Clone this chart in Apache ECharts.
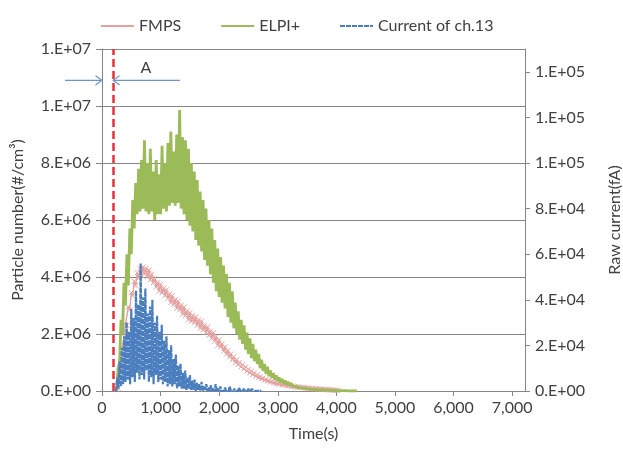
<!DOCTYPE html>
<html>
<head>
<meta charset="utf-8">
<title>Particle number and raw current</title>
<script src="https://cdn.jsdelivr.net/npm/echarts@6/dist/echarts.min.js"></script>
<style>
  html, body { margin: 0; padding: 0; background: #ffffff; }
  #chart { width: 623px; height: 450px; }
</style>
</head>
<body>
<div id="chart"></div>
<script>
// Tick positions
const timeTicks = [0, 1000, 2000, 3000, 4000, 5000, 6000, 7000];
const currentTicks = [0, 20000, 40000, 60000, 80000, 100000, 120000, 140000];

// Time (s) at which sampling starts (red dashed marker)
const startMarkTime = 190;

// ELPI+ particle number, in units of 1e6 #/cm3, sampled from 250 s every 25 s
const elpiStart = 250, elpiStep = 25;
const elpiMillions = [
  0.0, 0.8, 1.0, 2.5, 2.0, 3.8, 3.0, 4.8, 3.7, 5.7, 4.8, 6.7, 5.7, 7.3, 6.2, 7.8,
  6.3, 8.1, 6.4, 8.8, 6.3, 8.0, 6.2, 8.5, 6.3, 7.7, 6.0, 8.1, 6.2, 7.6, 6.2, 8.6,
  6.4, 8.0, 6.3, 8.7, 6.5, 9.1, 6.6, 8.4, 6.5, 9.0, 6.6, 9.86, 6.4, 8.9, 6.2, 8.8,
  6.0, 8.5, 5.8, 8.0, 5.6, 7.7, 5.3, 7.4, 5.1, 7.0, 4.9, 6.7, 4.6, 6.4, 4.4, 6.0,
  4.1, 5.7, 3.8, 5.3, 3.5, 5.0, 3.3, 4.7, 3.1, 4.4, 2.9, 4.1, 2.6, 3.8, 2.4, 3.5,
  2.2, 3.1, 2.0, 2.8, 1.8, 2.5, 1.65, 2.3, 1.45, 2.05, 1.3, 1.85, 1.15, 1.65, 1.05, 1.45,
  0.95, 1.3, 0.8, 1.1, 0.7, 0.95, 0.6, 0.85, 0.52, 0.72, 0.46, 0.63, 0.4, 0.55, 0.35, 0.48,
  0.3, 0.42, 0.27, 0.37, 0.23, 0.32, 0.2, 0.28, 0.18, 0.24, 0.15, 0.21, 0.13, 0.18, 0.11, 0.16,
  0.1, 0.14, 0.08, 0.12, 0.07, 0.1, 0.06, 0.09, 0.05, 0.08, 0.04, 0.07, 0.04, 0.06, 0.03, 0.05,
  0.03, 0.04, 0.02, 0.04, 0.02, 0.03, 0.01, 0.02, 0.01, 0.02, 0.01, 0.02, 0.01, 0.01, 0.0, 0.01,
  0.0, 0.01, 0.0, 0.0, 0.0
];

// FMPS particle number, in units of 1e6 #/cm3, sampled from 275 s every 25 s
const fmpsStart = 275, fmpsStep = 25;
const fmpsMillions = [
  0.1, 0.7, 0.8, 1.55, 1.6, 2.35, 2.3, 2.95, 2.85, 3.45, 3.35, 3.85, 3.7, 4.15, 3.95, 4.3,
  4.05, 4.35, 4.1, 4.3, 4.0, 4.25, 3.9, 4.1, 3.8, 3.95, 3.65, 3.8, 3.5, 3.75, 3.45, 3.6,
  3.35, 3.55, 3.25, 3.4, 3.1, 3.35, 3.05, 3.2, 2.9, 3.15, 2.85, 3.0, 2.7, 2.95, 2.65, 2.8,
  2.5, 2.75, 2.45, 2.65, 2.4, 2.6, 2.3, 2.5, 2.2, 2.45, 2.15, 2.3, 2.05, 2.25, 1.95, 2.1,
  1.85, 2.05, 1.75, 1.9, 1.6, 1.8, 1.55, 1.65, 1.4, 1.55, 1.3, 1.42, 1.2, 1.3, 1.1, 1.2,
  1.0, 1.1, 0.93, 1.0, 0.85, 0.92, 0.78, 0.84, 0.7, 0.76, 0.64, 0.7, 0.58, 0.63, 0.52, 0.57,
  0.47, 0.51, 0.42, 0.46, 0.38, 0.41, 0.34, 0.37, 0.31, 0.34, 0.28, 0.31, 0.26, 0.28, 0.24, 0.26,
  0.22, 0.24, 0.2, 0.22, 0.18, 0.2, 0.16, 0.18, 0.15, 0.16, 0.13, 0.15, 0.12, 0.13, 0.11, 0.12,
  0.1, 0.11, 0.09, 0.1, 0.08, 0.09, 0.07, 0.08, 0.06, 0.07, 0.06, 0.06, 0.05, 0.05, 0.05, 0.04,
  0.04, 0.04, 0.03, 0.03, 0.03, 0.03, 0.02
];

// Raw current of ELPI+ channel 13, in units of 1e4 fA, sampled from 240 s every 20 s
const currentStart = 240, currentStep = 20;
const currentE4 = [
  0.0, 0.6, 0.1, 1.3, 0.2, 1.9, 0.3, 2.4, 0.4, 3.0, 0.5, 2.6, 0.3, 3.6, 0.6, 3.2,
  0.4, 4.4, 0.8, 3.8, 0.5, 5.6, 0.7, 4.1, 0.5, 4.5, 0.9, 3.4, 0.4, 3.7, 0.6, 4.0,
  0.3, 3.0, 0.7, 3.3, 0.4, 2.6, 0.5, 2.9, 0.3, 2.2, 0.4, 2.4, 0.2, 1.8, 0.3, 2.0,
  0.2, 1.4, 0.3, 1.6, 0.1, 1.1, 0.2, 1.2, 0.1, 0.8, 0.1, 0.9, 0.05, 0.6, 0.1, 0.7,
  0.05, 0.45, 0.05, 0.5, 0.0, 0.35, 0.05, 0.3, 0.0, 0.4, 0.0, 0.2, 0.05, 0.3, 0.0, 0.15,
  0.0, 0.25, 0.0, 0.1, 0.0, 0.3, 0.0, 0.1, 0.0, 0.2, 0.0, 0.05, 0.0, 0.15, 0.0, 0.05,
  0.0, 0.2, 0.0, 0.05, 0.0, 0.1, 0.0, 0.05, 0.0, 0.15, 0.0, 0.05, 0.0, 0.1, 0.0, 0.05,
  0.0, 0.1, 0.0, 0.0, 0.08, 0.0, 0.0, 0.05, 0.0, 0.0, 0.03, 0.0, 0.0
];

const TEXT = '#404040';
const AXIS = '#868686';
const FONT = 'Lato';
const PINK = '#e3a19f';
const GREEN = '#9bbb59';
const BLUE = '#4a7ebf';

// Excel-style "0.E+00" number format
function sci(v) {
  if (v === 0) return '0.E+00';
  let e = Math.floor(Math.log10(v));
  let m = Math.round(v / Math.pow(10, e));
  if (m >= 10) { m = 1; e += 1; }
  return m + '.E+' + String(e).padStart(2, '0');
}

function toPairs(values, start, step, scale) {
  return values.map((v, i) => [start + i * step, v * scale]);
}

const chart = echarts.init(document.getElementById('chart'), null, { renderer: 'canvas' });

const option = {
  animation: false,
  textStyle: { fontFamily: FONT },
  legend: {
    top: 13,
    left: 95,
    itemWidth: 33,
    itemHeight: 12,
    itemGap: 39,
    itemStyle: { opacity: 0 },
    textStyle: { fontSize: 16, color: TEXT, fontFamily: FONT },
    data: ['FMPS', 'ELPI+', 'Current of ch.13']
  },
  grid: { left: 102, right: 98, top: 49, bottom: 59, outerBoundsMode: 'none', containLabel: false },
  xAxis: {
    type: 'value',
    min: 0,
    max: 7220,
    name: 'Time(s)',
    nameLocation: 'middle',
    nameGap: 35,
    nameTextStyle: { fontSize: 16, color: TEXT, fontFamily: FONT },
    axisLine: { show: true, onZero: false, lineStyle: { color: AXIS, width: 1 } },
    axisTick: { show: true, customValues: timeTicks, length: 5, lineStyle: { color: AXIS } },
    axisLabel: {
      customValues: timeTicks,
      formatter: v => v.toLocaleString('en-US'),
      fontSize: 16, color: TEXT, fontFamily: FONT, margin: 9
    },
    splitLine: { show: false }
  },
  yAxis: [
    {
      type: 'value',
      position: 'left',
      min: 0,
      max: 1.2e7,
      interval: 2e6,
      name: 'Particle number(#/cm³)',
      nameLocation: 'middle',
      nameRotate: 90,
      nameGap: 76,
      nameTextStyle: { fontSize: 16, color: TEXT, fontFamily: FONT },
      axisLine: { show: true, lineStyle: { color: AXIS, width: 1 } },
      axisTick: { show: true, length: 6, lineStyle: { color: AXIS } },
      axisLabel: { formatter: sci, fontSize: 16, color: TEXT, fontFamily: FONT, margin: 11 },
      splitLine: { show: true, lineStyle: { color: AXIS, width: 1 } }
    },
    {
      type: 'value',
      position: 'right',
      min: 0,
      max: 150000,
      name: 'Raw current(fA)',
      nameLocation: 'middle',
      nameRotate: 90,
      nameGap: 82,
      nameTextStyle: { fontSize: 16, color: TEXT, fontFamily: FONT },
      axisLine: { show: true, lineStyle: { color: AXIS, width: 1 } },
      axisTick: { show: true, customValues: currentTicks, length: 5, lineStyle: { color: AXIS } },
      axisLabel: { customValues: currentTicks, formatter: sci, fontSize: 16, color: TEXT, fontFamily: FONT, margin: 10 },
      splitLine: { show: false }
    }
  ],
  series: [
    {
      name: 'FMPS',
      type: 'line',
      yAxisIndex: 0,
      showSymbol: true,
      symbol: 'path://M0,0L10,10M10,0L0,10',
      symbolSize: 5,
      sampling: null,
      lineStyle: { color: PINK, width: 1.4 },
      itemStyle: { color: 'rgba(0,0,0,0)', borderColor: PINK, borderWidth: 1 },
      data: toPairs(fmpsMillions, fmpsStart, fmpsStep, 1e6),
      z: 2
    },
    {
      name: 'ELPI+',
      type: 'line',
      yAxisIndex: 0,
      showSymbol: false,
      symbol: 'none',
      lineStyle: { color: GREEN, width: 2.8 },
      itemStyle: { color: GREEN },
      data: toPairs(elpiMillions, elpiStart, elpiStep, 1e6),
      markLine: {
        silent: true,
        symbol: ['none', 'none'],
        label: { show: false },
        lineStyle: { color: '#e8303a', type: [8, 4], width: 2.5 },
        data: [{ xAxis: startMarkTime }]
      },
      z: 3
    },
    {
      name: 'Current of ch.13',
      type: 'line',
      yAxisIndex: 1,
      showSymbol: false,
      symbol: 'none',
      lineStyle: { color: BLUE, width: 2.2, type: [5, 1] },
      itemStyle: { color: BLUE },
      data: toPairs(currentE4, currentStart, currentStep, 1e4),
      z: 4
    }
  ]
};

chart.setOption(option);

// "A" interval annotation: arrows pointing to the time origin and to the marker line
const arrowValue = 1.09e7;
const labelValue = 1.135e7;
const leftArrowFrom = -630, rightArrowFrom = 1330, labelTime = 750;

function px(t, v) { return chart.convertToPixel({ xAxisIndex: 0, yAxisIndex: 0 }, [t, v]); }

function arrowShapes(from, to, color) {
  const dx = to[0] - from[0], dy = to[1] - from[1];
  const ang = Math.atan2(dy, dx);
  const len = 8, spread = Math.PI / 5;
  const a1 = [to[0] - len * Math.cos(ang - spread), to[1] - len * Math.sin(ang - spread)];
  const a2 = [to[0] - len * Math.cos(ang + spread), to[1] - len * Math.sin(ang + spread)];
  return [
    { type: 'line', shape: { x1: from[0], y1: from[1], x2: to[0], y2: to[1] },
      style: { stroke: color, lineWidth: 1.2 }, silent: true, z: 10 },
    { type: 'polyline', shape: { points: [a1, to, a2] },
      style: { stroke: color, lineWidth: 1.2, fill: null }, silent: true, z: 10 }
  ];
}

const arrowColor = '#6f95c8';
const lp = px(labelTime, labelValue);
chart.setOption({
  graphic: [
    ...arrowShapes(px(leftArrowFrom, arrowValue), px(0, arrowValue), arrowColor),
    ...arrowShapes(px(rightArrowFrom, arrowValue), px(startMarkTime, arrowValue), arrowColor),
    { type: 'text', x: lp[0], y: lp[1], silent: true, z: 10,
      style: { text: 'A', fill: TEXT, font: '16px Lato', align: 'center', verticalAlign: 'middle' } }
  ]
});
</script>
</body>
</html>
